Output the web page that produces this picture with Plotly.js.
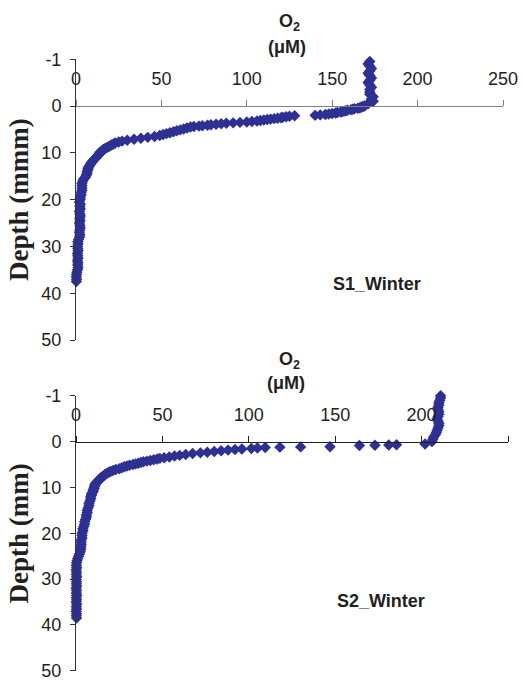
<!DOCTYPE html>
<html>
<head>
<meta charset="utf-8">
<script src="https://cdn.plot.ly/plotly-3.0.1.min.js"></script>
<style>html,body{margin:0;padding:0;background:#fff;}#chart{width:523px;height:681px;}</style>
</head>
<body>
<div id="chart"></div>
<script>
// ---------- DATA (depth in mm, O2 in µM) ----------
const s1Depth = [-0.95,-0.9,-0.85,-0.8,-0.75,-0.7,-0.65,-0.6,-0.55,-0.5,-0.45,-0.4,-0.35,-0.3,-0.25,-0.2,-0.15,-0.1,-0.05,0,
  0.1,0.2,0.3,0.4,0.5,0.6,0.7,0.8,0.9,1.0,1.1,1.2,1.3,1.4,1.5,1.6,1.7,1.8,1.9,2.0,
  2.1,2.2,2.3,2.4,2.5,2.6,2.7,2.8,2.9,3.0,3.1,3.2,3.3,3.4,3.5,3.6,3.7,3.8,3.9,4.0,4.1,4.2,4.3,4.4,4.5,
  4.7,4.9,5.1,5.3,5.5,5.7,5.9,6.1,6.3,6.5,6.7,6.9,7.1,7.3,7.5,7.7,7.9,8.1,8.3,8.5,8.7,8.9,9.1,9.3,9.5,9.7,9.9,
  10.1,10.3,10.5,10.7,10.9,11.1,11.3,11.5,11.7,11.9,12.1,12.4,12.7,13.0,13.3,13.6,14.0,14.4,14.8,15.2,15.6,16.0,
  16.5,17.0,17.5,18.0,18.5,19.0,19.5,20.0,20.5,21.0,21.5,22.0,22.5,23.0,23.5,24.0,24.5,25.0,25.5,26.0,26.5,27.0,27.5,28.0,
  28.5,29.0,29.5,30.0,30.5,31.0,31.5,32.0,32.5,33.0,33.5,34.0,34.5,35.0,35.5,36.0,36.5,37.0,37.5];
const s1O2 = [172,171,172,173,172,171,172,173,172,171,172,173,172,172,172,174,173,174,171,169,
  168,167,167,166,165,163,162,161,159,158,157,156,155,153,152,150,148,146,143,140,
  128,125,123,121,120,118,116,114,112,110,108,106,103,100,96,92,88,85,82,79,77,74,72,69,67,
  65,63,61,59,57,55,53,51,49,46,42,38,34,30,27,25,23,22,21,20,19,18,17,16,15.5,15,14,
  14,13.5,13,12.5,12,11.5,11,10.5,10,9.5,9,8.5,8,7.5,7,7,6.5,6.5,6,5.5,4.5,4,
  3.5,3.5,3.5,3.5,3,3,2.5,2.5,2,2.5,2.3,2.5,2,2.3,2.5,2.2,2.4,2,2.3,2.5,2.2,2,2.3,2.1,
  1.5,1.1,1.2,0.9,1.1,1.2,0.9,1,1.2,0.9,1.1,1,1.2,0.9,0.5,0.3,0.2,0.3,0.2];

const s2Depth = [-1.0,-0.95,-0.9,-0.85,-0.8,-0.75,-0.7,-0.65,-0.6,-0.55,-0.5,-0.45,-0.4,-0.35,-0.3,-0.25,-0.2,-0.15,-0.1,-0.05,0,
  0.5,0.7,0.75,0.8,0.85,1.1,1.15,1.2,1.3,1.4,1.5,1.6,1.7,1.85,2.0,2.15,2.3,2.45,2.6,2.8,3.0,3.15,3.35,3.5,
  3.65,3.8,3.95,4.1,4.25,4.4,4.55,4.7,4.85,5.0,5.15,5.3,5.5,5.7,5.9,6.1,6.3,6.5,6.7,6.9,7.1,7.3,7.5,7.7,7.9,
  8.1,8.3,8.5,8.7,8.9,9.1,9.3,9.6,9.9,10.2,10.5,10.8,11.1,11.4,11.7,12.0,12.5,13.0,13.5,14.0,14.5,15.0,15.5,16.0,
  16.5,17.0,17.5,18.0,18.5,19.0,19.5,20.0,20.5,21.0,21.5,22.0,22.5,23.0,23.5,24.0,24.5,25.0,25.5,26.0,26.5,
  27.0,27.5,28.0,28.5,29.0,29.5,30.0,30.5,31.0,31.5,32.0,32.5,33.0,33.5,34.0,34.5,35.0,35.5,36.0,36.5,37.0,37.5,38.0,38.5];
const s2O2 = [211,211,210.5,210,210,209.5,209.5,210,210,209.5,209,209.5,210,210,209.5,209,208.5,208,207,206.5,206,
  202,185.5,181,173,164,147,130,118,109.5,105,101.5,96,92,88,84,80,76,72,67.5,63.5,60,57,54,51,
  48.5,47,45,43,41,39,37.5,36,34.5,33,31,29.5,28,26.5,25,23,21.5,20,19,18,17,16.5,16,15,14.5,
  14,13.5,13,12.5,12,11.5,11,11,10.5,10.5,10,10,9.5,9,9,8.5,8.5,8,7.5,7.5,7,6.5,6.5,6,
  6,5.5,5,5,4.5,4,4,3.5,3.5,3.5,3,3,3,2.8,2.8,2.5,2,1.5,1,0.6,0.3,
  0.2,0.4,0.1,0.3,0.2,0.4,0.1,0.3,0.2,0.4,0.1,0.3,0.2,0.4,0.2,0.3,0.1,0.4,0.2,0.3,0.1,0.3,0.2,0.3];

const xTicks = [0,50,100,150,200,250];
const depthTicks = [-1,0,10,20,30,40,50];
const panelNames = ['S1_Winter','S2_Winter'];
const depthTitles = ['Depth (mmm)','Depth (mm)'];

// axis scale: the above-surface part (-1..0 mm) is drawn 10x stretched
const toAxis = d => d < 0 ? d * 10 : d;

// ---------- STYLE ----------
const W = 523, H = 681;
const px = x => x / W, py = y => 1 - y / H;
const markerColor = '#2E3192';
const sans = 'Liberation Sans, Arial, sans-serif';
const serif = 'Liberation Serif, Times New Roman, serif';
const tickFont = {family: sans, size: 18, color: '#231F20'};

const traces = [
  {x: s1O2, y: s1Depth.map(toAxis), xaxis: 'x', yaxis: 'y'},
  {x: s2O2, y: s2Depth.map(toAxis), xaxis: 'x2', yaxis: 'y2'}
].map(t => Object.assign(t, {
  type: 'scatter', mode: 'markers', cliponaxis: false, hoverinfo: 'x+y',
  marker: {symbol: 'diamond', size: 8.8, color: markerColor, line: {width: 0}}
}));

function xAxis(domain, pos, lineColor) {
  return {
    domain: domain, range: [0, 250], anchor: 'free', position: pos, side: 'top',
    showline: true, linecolor: lineColor, linewidth: 1,
    ticks: 'outside', ticklen: 6, tickcolor: lineColor, tickwidth: 1,
    tickvals: xTicks, ticktext: xTicks.map(String),
    showgrid: false, zeroline: false, tickfont: tickFont, ticklabelstandoff: 8
  };
}
function yAxis(domain, anchor, title) {
  return {
    domain: domain, range: [50, -10], anchor: anchor, autorange: false,
    showline: true, linecolor: '#333', linewidth: 1,
    ticks: 'outside', ticklen: 5, tickcolor: '#333',
    tickvals: depthTicks.map(toAxis), ticktext: depthTicks.map(String),
    showgrid: false, zeroline: false, tickfont: tickFont, ticklabelstandoff: 5,
    ticklabeloverflow: 'allow',
    title: {text: '<b>' + title + '</b>', font: {family: serif, size: 27, color: '#231F20'}, standoff: 4}
  };
}

const annFont = {family: sans, size: 18, color: '#231F20'};
const ann = (x, y, text) => ({xref: 'paper', yref: 'paper', x: px(x), y: py(y), text: text,
  showarrow: false, xanchor: 'center', yanchor: 'middle', font: annFont});

const layout = {
  width: W, height: H, margin: {l: 0, r: 0, t: 0, b: 0},
  paper_bgcolor: '#fff', plot_bgcolor: '#fff', showlegend: false,
  xaxis: xAxis([px(76), px(503)], py(106), '#808080'),
  yaxis: yAxis([py(340), py(59.2)], 'x', depthTitles[0]),
  xaxis2: xAxis([px(76), px(508)], py(441.8), '#231F20'),
  yaxis2: yAxis([py(670.8), py(395.8)], 'x2', depthTitles[1]),
  annotations: [
    ann(289, 22, '<b>O<sub>2</sub></b>'),
    ann(287, 47, '<b>(μM)</b>'),
    ann(377, 284, '<b>' + panelNames[0] + '</b>'),
    ann(289, 360, '<b>O<sub>2</sub></b>'),
    ann(286, 383, '<b>(μM)</b>'),
    ann(381, 601, '<b>' + panelNames[1] + '</b>')
  ]
};

Plotly.newPlot('chart', traces, layout, {displayModeBar: false, staticPlot: true});
</script>
</body>
</html>
